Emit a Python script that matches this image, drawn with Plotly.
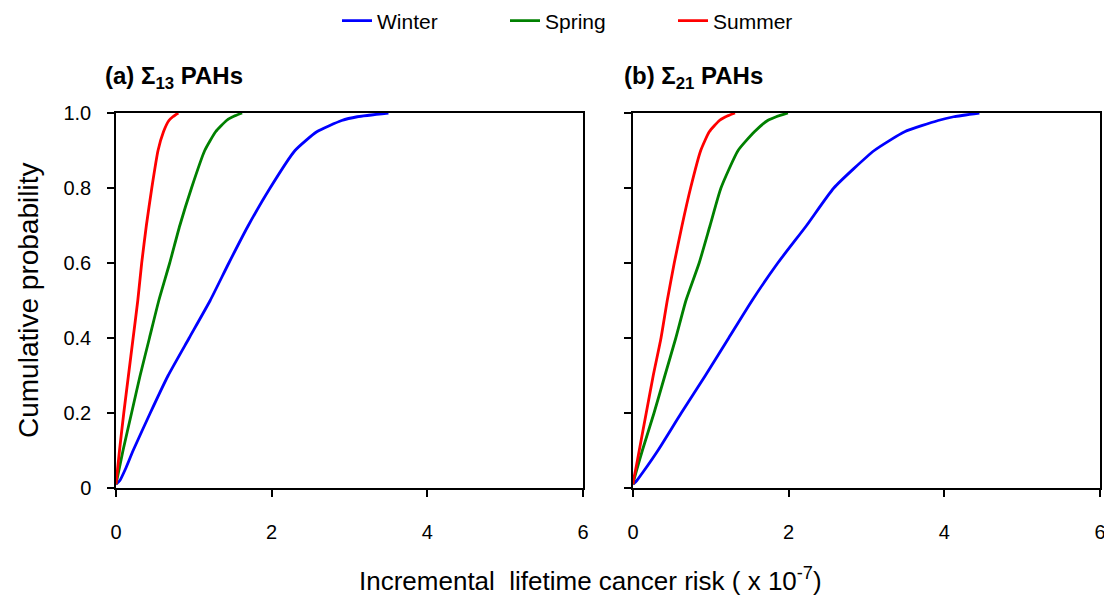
import plotly.graph_objects as go

# Cumulative probability levels
prob = [0.01, 0.02, 0.05, 0.1, 0.2, 0.3, 0.4, 0.5, 0.6, 0.7, 0.8, 0.9, 0.95, 0.98, 0.99, 1.0]

# (a) Sigma13 PAHs — incremental lifetime cancer risk (x 1e-7)
winter_a = [0.0, 0.05, 0.12, 0.22, 0.44, 0.67, 0.94, 1.21, 1.45, 1.70, 1.98, 2.30, 2.58, 2.90, 3.10, 3.50]
spring_a = [0.0, 0.01, 0.04, 0.09, 0.20, 0.31, 0.43, 0.55, 0.69, 0.82, 0.97, 1.14, 1.28, 1.42, 1.50, 1.62]
summer_a = [0.0, 0.005, 0.02, 0.045, 0.10, 0.16, 0.22, 0.28, 0.33, 0.39, 0.46, 0.54, 0.61, 0.68, 0.73, 0.80]

# (b) Sigma21 PAHs
winter_b = [0.0, 0.05, 0.155, 0.32, 0.62, 0.93, 1.23, 1.53, 1.86, 2.23, 2.58, 3.10, 3.49, 3.92, 4.12, 4.45]
spring_b = [0.0, 0.01, 0.05, 0.12, 0.27, 0.41, 0.55, 0.68, 0.85, 0.99, 1.13, 1.35, 1.56, 1.73, 1.84, 1.99]
summer_b = [0.0, 0.005, 0.035, 0.08, 0.17, 0.26, 0.36, 0.44, 0.53, 0.63, 0.74, 0.87, 0.98, 1.11, 1.19, 1.31]

seasons = ["Winter", "Spring", "Summer"]
colors = ["#0000FF", "#008000", "#FF0000"]

x_ticks = [0, 2, 4, 6]
y_ticks = [0, 0.2, 0.4, 0.6, 0.8, 1.0]
y_ticktext = ["0", "0.2", "0.4", "0.6", "0.8", "1.0"]

panel_titles = ["<b>(a) Σ<sub>13</sub> PAHs</b>", "<b>(b) Σ<sub>21</sub> PAHs</b>"]
x_title = "Incremental  lifetime cancer risk ( x 10<sup>-7</sup>)"
y_title = "Cumulative probability"

W, H = 1112, 602
OFF = 8  # page body margin offset
FONT = "Liberation Sans, Arial, sans-serif"

fig = go.Figure()

panels = [(winter_a, spring_a, summer_a), (winter_b, spring_b, summer_b)]
for pi, series in enumerate(panels):
    xa = "x" if pi == 0 else "x2"
    ya = "y" if pi == 0 else "y2"
    for si, vals in enumerate(series):
        fig.add_trace(go.Scatter(
            x=vals, y=prob, mode="lines", name=seasons[si],
            line=dict(color=colors[si], width=2.8, shape="spline", smoothing=0.5),
            xaxis=xa, yaxis=ya, showlegend=(pi == 0),
        ))

def px_x(p):
    return (p - OFF) / W

def px_y(p):
    return 1 - (p - OFF) / H

axis_common = dict(
    showline=True, linecolor="#000000", linewidth=1.5, mirror=True,
    showgrid=False, zeroline=False, ticks="outside", ticklen=7,
    tickcolor="#000000", tickwidth=1.5, automargin=False,
    tickfont=dict(family=FONT, size=20, color="#000000"),
)

fig.update_layout(
    width=W, height=H,
    margin=dict(l=0, r=0, t=0, b=0, autoexpand=False),
    paper_bgcolor="white", plot_bgcolor="white",
    font=dict(family=FONT, color="#000000"),
    xaxis=dict(domain=[px_x(116), px_x(583)], range=[0, 6], tickvals=x_ticks,
               anchor="y", ticklabelstandoff=18, **axis_common),
    yaxis=dict(domain=[px_y(488), px_y(113)], range=[0, 1], tickvals=y_ticks,
               ticktext=y_ticktext, anchor="x", ticklabelstandoff=12, **axis_common),
    xaxis2=dict(domain=[px_x(633), px_x(1100)], range=[0, 6], tickvals=x_ticks,
                anchor="y2", ticklabelstandoff=18, **axis_common),
    yaxis2=dict(domain=[px_y(488), px_y(113)], range=[0, 1], tickvals=y_ticks,
                anchor="x2", showticklabels=False, **axis_common),
    legend=dict(orientation="h", x=px_x(337), y=px_y(21), xanchor="left", yanchor="middle",
                font=dict(family=FONT, size=21, color="#000000"),
                entrywidth=123, bgcolor="rgba(0,0,0,0)"),
    annotations=[
        dict(text=panel_titles[0], x=px_x(103), y=px_y(77), xref="paper", yref="paper",
             xanchor="left", yanchor="middle", showarrow=False,
             font=dict(family=FONT, size=24, color="#000000")),
        dict(text=panel_titles[1], x=px_x(622), y=px_y(77), xref="paper", yref="paper",
             xanchor="left", yanchor="middle", showarrow=False,
             font=dict(family=FONT, size=24, color="#000000")),
        dict(text=x_title, x=px_x(590), y=px_y(579), xref="paper", yref="paper",
             xanchor="center", yanchor="middle", showarrow=False,
             font=dict(family=FONT, size=26, color="#000000")),
        dict(text=y_title, x=px_x(28), y=px_y(301), xref="paper", yref="paper",
             xanchor="center", yanchor="middle", showarrow=False, textangle=-90,
             font=dict(family=FONT, size=28, color="#000000")),
    ],
)

fig.write_html("out.html")
